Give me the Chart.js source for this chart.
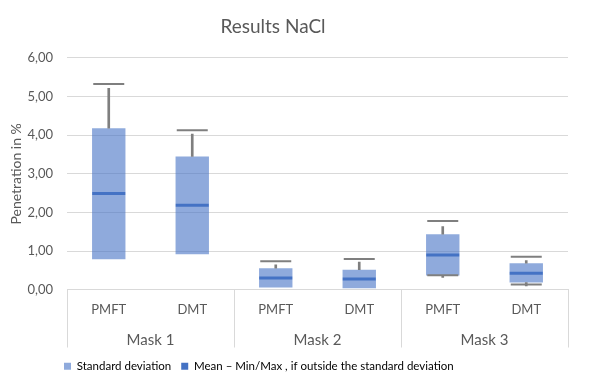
<!DOCTYPE html>
<html>
<head>
<meta charset="utf-8">
<script src="https://cdn.jsdelivr.net/npm/chart.js@4.4.1/dist/chart.umd.min.js"></script>
<style>
  html, body { margin: 0; padding: 0; background: #fff; }
  #wrap { width: 600px; height: 386px; }
</style>
</head>
<body>
<div id="wrap"><canvas id="nacl"></canvas></div>
<script>
// Daten
const groups = ['Mask 1', 'Mask 2', 'Mask 3'];
const methods = ['PMFT', 'DMT', 'PMFT', 'DMT', 'PMFT', 'DMT'];
const sdLow = [0.79, 0.92, 0.06, 0.04, 0.37, 0.19];
const sdHigh = [4.18, 3.45, 0.56, 0.52, 1.44, 0.69];
const means = [2.49, 2.19, 0.31, 0.28, 0.90, 0.43];
const maxVals = [5.32, 4.13, 0.74, 0.80, 1.78, 0.86];
const errTop = [5.21, 4.03, 0.65, 0.72, 1.64, 0.76];
const minVals = [null, null, null, null, 0.38, 0.14];
const errBottom = [null, null, null, null, 0.32, 0.10];
const yTicks = [0, 1, 2, 3, 4, 5, 6];
const legendTexts = ['Standard deviation', 'Mean \u2013 Min/Max , if outside the standard deviation'];

const textGrey = '#595959';
const gridGrey = '#d9d9d9';
const whiskerGrey = '#7f7f7f';
const boxBlue = 'rgba(68,114,196,0.6)';
const meanBlue = '#4472C4';

Chart.defaults.font.family = 'Lato, "Open Sans", sans-serif';
Chart.defaults.color = textGrey;

// Whisker als schmale schwebende Balken
function range(a, b) {
  return a.map((v, i) => (v === null || b[i] === null) ? null : [v, b[i]]);
}

// Trennlinien zwischen den Masken unter der x-Achse
const groupLines = {
  id: 'groupLines',
  afterLayout(chart) {
    // Titel und Legende etwas nach links, wie im Original
    chart.titleBlock.right -= 30;
    chart.legend.left -= 13;
  },
  afterDraw(chart) {
    const x = chart.scales.x;
    const x2 = chart.scales.x2;
    const step = x.getPixelForValue(1) - x.getPixelForValue(0);
    const c = chart.ctx;
    c.save();
    c.strokeStyle = gridGrey;
    c.lineWidth = 1;
    for (let g = 0; g <= groups.length; g++) {
      const px = Math.round(x.getPixelForValue(g * 2) - step / 2) + 0.5;
      c.beginPath();
      c.moveTo(px, x.top);
      c.lineTo(px, x2.bottom - 3);
      c.stroke();
    }
    c.restore();
  }
};

const ctx = document.getElementById('nacl').getContext('2d');
const chart = new Chart(ctx, {
  data: {
    labels: methods,
    datasets: [
      {
        type: 'bar',
        label: legendTexts[0],
        data: range(sdLow, sdHigh),
        backgroundColor: boxBlue,
        grouped: false,
        categoryPercentage: 1,
        barPercentage: 0.4,
        order: 3,
        xAxisID: 'x'
      },
      {
        type: 'bar',
        label: 'upper',
        data: range(sdHigh, errTop),
        backgroundColor: whiskerGrey,
        grouped: false,
        barThickness: 2,
        order: 2,
        xAxisID: 'x'
      },
      {
        type: 'bar',
        label: 'lower',
        data: range(errBottom, sdLow),
        backgroundColor: whiskerGrey,
        grouped: false,
        barThickness: 2,
        order: 2,
        xAxisID: 'x'
      },
      {
        type: 'line',
        label: 'max',
        data: maxVals,
        showLine: false,
        pointStyle: 'line',
        pointRadius: 15.5,
        borderColor: whiskerGrey,
        borderWidth: 2,
        order: 1,
        xAxisID: 'x'
      },
      {
        type: 'line',
        label: 'min',
        data: minVals,
        showLine: false,
        pointStyle: 'line',
        pointRadius: 15.5,
        borderColor: whiskerGrey,
        borderWidth: 2,
        order: 1,
        xAxisID: 'x'
      },
      {
        type: 'line',
        label: legendTexts[1],
        data: means,
        showLine: false,
        pointStyle: 'line',
        pointRadius: 16.5,
        borderColor: meanBlue,
        borderWidth: 3,
        order: 0,
        xAxisID: 'x'
      }
    ]
  },
  options: {
    responsive: true,
    maintainAspectRatio: false,
    animation: false,
    layout: { padding: { left: 8, right: 32, bottom: 4 } },
    plugins: {
      title: {
        display: true,
        text: 'Results NaCl',
        color: textGrey,
        font: { size: 19, weight: 'normal' },
        padding: { top: 15, bottom: 20 }
      },
      legend: {
        position: 'bottom',
        align: 'start',
        fullSize: false,
        labels: {
          boxWidth: 7,
          boxHeight: 7,
          padding: 10,
          color: '#1a1a1a',
          font: { size: 11.5 },
          generateLabels: function() {
            return [
              { text: legendTexts[0], fillStyle: boxBlue, strokeStyle: boxBlue, lineWidth: 0, datasetIndex: 0 },
              { text: legendTexts[1], fillStyle: meanBlue, strokeStyle: meanBlue, lineWidth: 0, datasetIndex: 5 }
            ];
          }
        }
      },
      tooltip: { enabled: false }
    },
    scales: {
      x: {
        type: 'category',
        position: 'bottom',
        offset: true,
        grid: { offset: true, drawOnChartArea: false, drawTicks: false },
        border: { display: true, color: gridGrey },
        ticks: { padding: 12, font: { size: 13 }, color: textGrey, maxRotation: 0 }
      },
      x2: {
        type: 'category',
        position: 'bottom',
        labels: groups,
        offset: true,
        grid: { display: false, drawTicks: false },
        border: { display: false },
        ticks: { padding: 1.5, font: { size: 15 }, color: textGrey, maxRotation: 0 }
      },
      y: {
        min: 0,
        max: 6,
        afterBuildTicks: s => { s.ticks = yTicks.map(v => ({ value: v })); },
        afterFit: s => { s.width = 59; },
        grid: { color: gridGrey, drawTicks: false },
        border: { display: false },
        ticks: {
          padding: 14,
          font: { size: 13 },
          color: textGrey,
          callback: v => v.toFixed(2).replace('.', ',')
        },
        title: {
          display: true,
          text: 'Penetration in %',
          color: textGrey,
          font: { size: 14 },
          padding: { top: 0, bottom: 3 }
        }
      }
    }
  },
  plugins: [groupLines]
});
</script>
</body>
</html>
